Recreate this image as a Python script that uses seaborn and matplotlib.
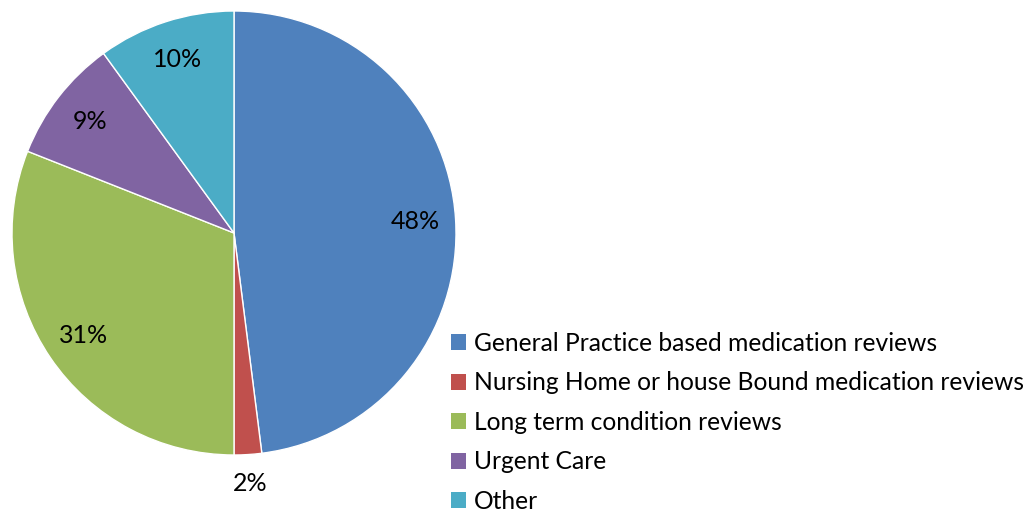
import numpy as np
import matplotlib
matplotlib.use("Agg")
import matplotlib.pyplot as plt
from matplotlib.patches import Patch
import seaborn as sns

categories = ["General Practice based medication reviews",
              "Nursing Home or house Bound medication reviews",
              "Long term condition reviews",
              "Urgent Care",
              "Other"]
values = [48, 2, 31, 9, 10]
labels = ["48%", "2%", "31%", "9%", "10%"]
colors = ["#4F81BD", "#C0504D", "#9BBB59", "#8064A2", "#4BACC6"]

sns.set_theme(style="white")
plt.rcParams['font.family'] = ['Lato', 'DejaVu Sans']
plt.rcParams['text.color'] = 'black'

fig = plt.figure(figsize=(10.32, 5.11), dpi=100)
ax = fig.add_axes([12/1032, 56/511, 444/1032, 444/511])
wedges, _ = ax.pie(values, colors=colors, startangle=90, counterclock=False,
                   wedgeprops=dict(edgecolor="white", linewidth=1))
ax.set_aspect("equal")
ax.set_xlim(-1, 1)
ax.set_ylim(-1, 1)

for w, lab, v in zip(wedges, labels, values):
    ang = np.deg2rad((w.theta1 + w.theta2) / 2)
    d = 1.13 if v < 5 else 0.82
    ax.text(d * np.cos(ang), d * np.sin(ang), lab, ha="center", va="center",
            fontsize=18, color="black")

handles = [Patch(facecolor=c, edgecolor="none") for c in colors]
leg = fig.legend(handles, categories, loc="upper left",
                 bbox_to_anchor=(451/1032, 1 - 332/511), frameon=False,
                 fontsize=17.7, handlelength=0.62, handleheight=0.62,
                 handletextpad=0.3, labelspacing=0.67, borderpad=0,
                 borderaxespad=0)
for t in leg.get_texts():
    t.set_color("black")

fig.savefig("out.png", dpi=100)
